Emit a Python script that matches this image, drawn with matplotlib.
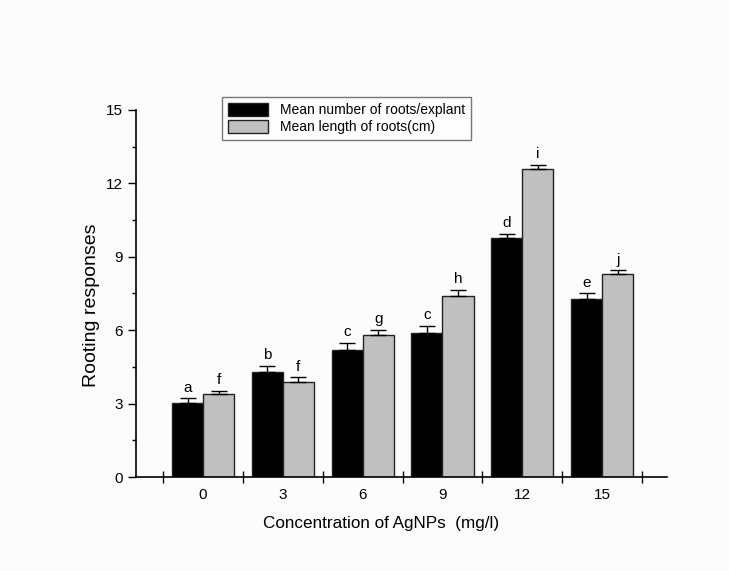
import numpy as np
import matplotlib.pyplot as plt
from matplotlib.ticker import MultipleLocator

plt.rcParams['font.family'] = ['Liberation Sans', 'DejaVu Sans']

# data
conc = ['0', '3', '6', '9', '12', '15']
num_roots = [3.01, 4.29, 5.19, 5.88, 9.78, 7.29]
num_err = [0.20, 0.25, 0.30, 0.30, 0.16, 0.22]
len_roots = [3.39, 3.88, 5.79, 7.40, 12.57, 8.30]
len_err = [0.12, 0.19, 0.22, 0.24, 0.18, 0.15]
num_letters = ['a', 'b', 'c', 'c', 'd', 'e']
len_letters = ['f', 'f', 'g', 'h', 'i', 'j']

x = np.arange(len(conc))
w = 0.39

fig = plt.figure(figsize=(7.29, 5.71), dpi=100, facecolor='#fcfcfc')
ax = fig.add_axes([0.1866, 0.1646, 0.728, 0.643])
ax.set_facecolor('#fcfcfc')

ax.bar(x - w/2, num_roots, w, color='black', edgecolor='#222222', lw=1,
       label='Mean number of roots/explant', zorder=2)
ax.bar(x + w/2, len_roots, w, color='#c0c0c0', edgecolor='#222222', lw=1,
       label='Mean length of roots(cm)', zorder=2)

# error bars (upper only)
ax.errorbar(x - w/2, num_roots, yerr=[np.zeros(6), num_err], fmt='none',
            ecolor='black', elinewidth=1, capsize=5.5, capthick=1, zorder=3)
ax.errorbar(x + w/2, len_roots, yerr=[np.zeros(6), len_err], fmt='none',
            ecolor='black', elinewidth=1, capsize=5.5, capthick=1, zorder=3)

for i in range(len(conc)):
    ax.text(x[i] - w/2, num_roots[i] + num_err[i] + 0.15, num_letters[i],
            ha='center', va='bottom', fontsize=11)
    ax.text(x[i] + w/2, len_roots[i] + len_err[i] + 0.15, len_letters[i],
            ha='center', va='bottom', fontsize=11)

ax.set_xlim(-0.84, 5.81)
ax.set_ylim(0, 15)
ax.set_xticks(x)
ax.set_xticklabels(conc, fontsize=11)
ax.set_xticks(np.arange(-0.5, 6.0, 1), minor=True)
ax.tick_params(axis='x', which='major', length=0, pad=8)
ax.tick_params(axis='x', which='minor', direction='inout', length=9, width=1)

ax.yaxis.set_major_locator(MultipleLocator(3))
ax.yaxis.set_minor_locator(MultipleLocator(1.5))
ax.tick_params(axis='y', which='major', direction='out', length=6, width=1,
               labelsize=11)
ax.tick_params(axis='y', which='minor', direction='out', length=3, width=1)

for s in ['top', 'right']:
    ax.spines[s].set_visible(False)
for s in ['left', 'bottom']:
    ax.spines[s].set_linewidth(1.2)

ax.set_xlabel('Concentration of AgNPs  (mg/l)', fontsize=12.3)
ax.xaxis.set_label_coords(0.461, -0.105)
ax.set_ylabel('Rooting responses', fontsize=14)
ax.yaxis.set_label_coords(-0.068, 0.469)

leg = ax.legend(loc='upper left', bbox_to_anchor=(0.162, 1.035), fontsize=10,
                frameon=True, fancybox=False, edgecolor='#555555',
                handlelength=2.9, handleheight=1.1, borderpad=0.4,
                labelspacing=0.2, handletextpad=0.9, borderaxespad=0)
leg.get_frame().set_linewidth(1)

fig.savefig('out.png', dpi=100, facecolor=fig.get_facecolor())
